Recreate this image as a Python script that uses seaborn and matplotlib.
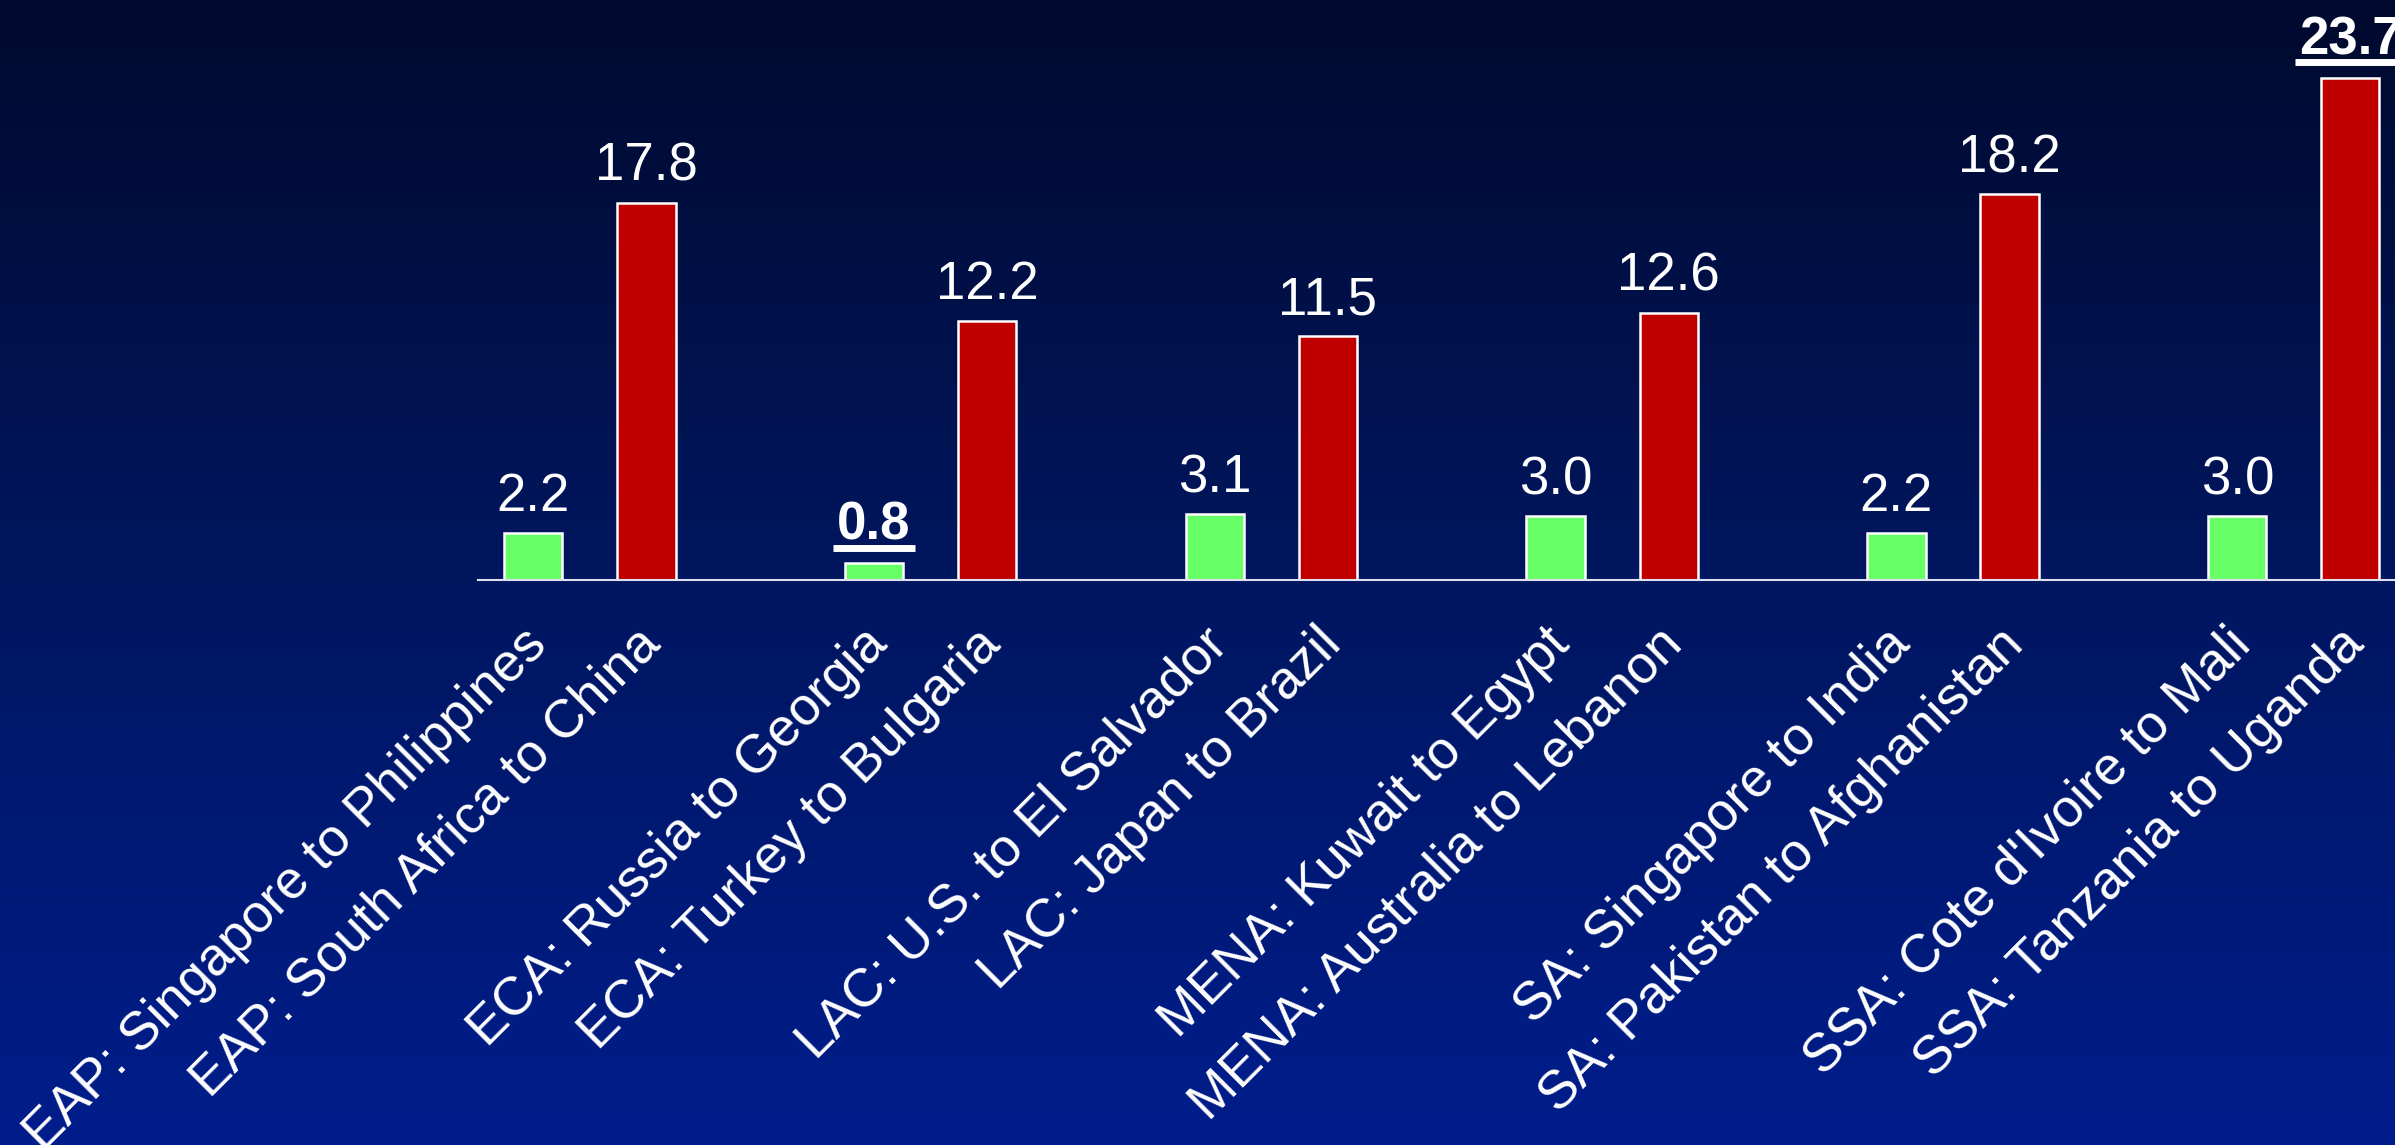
import numpy as np
import pandas as pd
import matplotlib
matplotlib.use('Agg')
import matplotlib.pyplot as plt
import seaborn as sns
from matplotlib.lines import Line2D
from matplotlib.colors import LinearSegmentedColormap
from matplotlib.transforms import ScaledTranslation

# data
regions = ['EAP', 'ECA', 'LAC', 'MENA', 'SA', 'SSA']
low_labels = ['EAP: Singapore to Philippines', 'ECA: Russia to Georgia',
              'LAC: U.S. to El Salvador', 'MENA: Kuwait to Egypt',
              'SA: Singapore to India', "SSA: Cote d'Ivoire to Mali"]
high_labels = ['EAP: South Africa to China', 'ECA: Turkey to Bulgaria',
               'LAC: Japan to Brazil', 'MENA: Australia to Lebanon',
               'SA: Pakistan to Afghanistan', 'SSA: Tanzania to Uganda']
low_values = [2.2, 0.8, 3.1, 3.0, 2.2, 3.0]
high_values = [17.8, 12.2, 11.5, 12.6, 18.2, 23.7]
series = ['Lowest', 'Highest']
highlight = ['0.8', '23.7']  # extremes shown bold + underlined

df = pd.DataFrame({
    'region': regions * 2,
    'series': [series[0]] * 6 + [series[1]] * 6,
    'value': low_values + high_values,
    'label': low_labels + high_labels,
})

sns.set_style('white')
plt.rcParams['font.family'] = ['Liberation Sans', 'DejaVu Sans']

fig = plt.figure(figsize=(23.95, 11.45), dpi=100)

# gradient background
bg = fig.add_axes([0, 0, 1, 1], zorder=0)
grad = np.linspace(0, 1, 256).reshape(-1, 1)
cmap = LinearSegmentedColormap.from_list('bg', ['#000a2e', '#00165f', '#001d8c'])
bg.imshow(grad, aspect='auto', cmap=cmap, extent=[0, 1, 0, 1], origin='upper')
bg.axis('off')

ax = fig.add_axes([0.1996, 0.4934, 0.8004, 0.4629], zorder=1)
ax.set_facecolor('none')
sns.barplot(data=df, x='region', y='value', hue='series', hue_order=series,
            palette=['#66ff66', '#c00000'], saturation=1, width=0.664, gap=0.485,
            edgecolor='white', linewidth=1.8, legend=False, ax=ax)

ax.set_xlim(-0.328, 5.297)
ax.set_ylim(0, 25)

# one tick label per bar, placed at bar centres
ticks = []
for cont, labs in zip(ax.containers, [low_labels, high_labels]):
    for bar, lab in zip(cont, labs):
        ticks.append((bar.get_x() + bar.get_width() / 2, lab))
ticks.sort()
ax.set_xticks([t[0] for t in ticks])
ax.tick_params(axis='x', length=0, pad=28)
ax.set_xticklabels([t[1] for t in ticks], fontsize=38.5, color='white',
                   rotation=45, ha='right', rotation_mode='anchor')
shift = ScaledTranslation(-0.12, 0, fig.dpi_scale_trans)
for lab in ax.get_xticklabels():
    lab.set_transform(lab.get_transform() + shift)
ax.set_yticks([])
ax.set_xlabel('')
ax.set_ylabel('')
for s in ['top', 'right', 'left']:
    ax.spines[s].set_visible(False)
ax.spines['bottom'].set_color('#dde0ee')
ax.spines['bottom'].set_linewidth(1.5)

# value labels
texts = []
for cont in ax.containers:
    texts += ax.bar_label(cont, fmt='%.1f', padding=8, fontsize=38, color='white')
for t in texts:
    if t.get_text() in highlight:
        t.set_fontweight('bold')
        t.xyann = (0, 9)

fig.canvas.draw()
renderer = fig.canvas.get_renderer()
inv = fig.transFigure.inverted()
for t in texts:
    if t.get_text() in highlight:
        bb = t.get_window_extent(renderer)
        (x0, y0), (x1, _) = inv.transform([(bb.x0 - 4, bb.y0 + 3), (bb.x1 + 4, bb.y0 + 3)])
        fig.add_artist(Line2D([x0, x1], [y0, y0], color='white', linewidth=5,
                              transform=fig.transFigure, solid_capstyle='butt'))

fig.savefig('out.png', dpi=100)
